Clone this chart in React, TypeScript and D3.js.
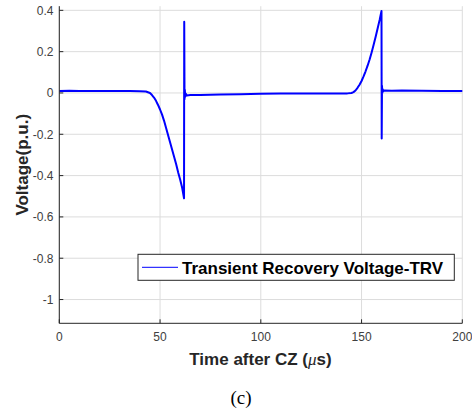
import React from "react";
import * as d3 from "d3";

// Time after current zero (µs)
const timeUs: number[] = [
  0, 5, 10, 15, 20, 25, 30, 35, 40, 43, 45, 46, 47, 48, 49, 50, 51, 52, 53, 54, 55, 56, 57, 58, 59, 60, 61, 61.9,
  62.0, 62.15, 62.3, 62.5, 62.8, 63.3, 65, 70, 80, 90, 100, 110, 120, 130, 140, 143, 145, 146, 147, 148, 149, 150,
  151, 152, 153, 154, 155, 156, 157, 158, 159, 159.9, 160.0, 160.15, 160.3, 160.5, 160.8, 161.3, 165, 170, 180,
  190, 200,
];
// Transient recovery voltage (p.u.)
const voltagePu: number[] = [
  0.01, 0.011, 0.01, 0.009, 0.01, 0.009, 0.01, 0.009, 0.008, 0.007, 0.0, -0.01, -0.022, -0.038, -0.058, -0.08,
  -0.105, -0.135, -0.17, -0.205, -0.24, -0.275, -0.31, -0.345, -0.385, -0.42, -0.46, -0.51, 0.345, -0.03, 0.015,
  -0.018, -0.004, -0.012, -0.01, -0.01, -0.008, -0.006, -0.004, -0.003, -0.002, -0.002, -0.002, -0.002, 0.0,
  0.004, 0.012, 0.025, 0.04, 0.058, 0.08, 0.105, 0.132, 0.162, 0.196, 0.233, 0.272, 0.313, 0.355, 0.397, -0.22,
  0.035, 0.0, 0.018, 0.008, 0.012, 0.011, 0.012, 0.011, 0.01, 0.01,
];

const xTicks: number[] = [0, 50, 100, 150, 200];
const yTicks: number[] = [0.4, 0.2, 0, -0.2, -0.4, -0.6, -0.8, -1];

const seriesName = "Transient Recovery Voltage-TRV";
const xLabel = "Time after CZ (";
const yLabel = "Voltage(p.u.)";
const caption = "(c)";

export default function App() {
  const W = 472;
  const H = 414;
  const x = d3.scaleLinear().domain([0, 200]).range([59.3, 462.3]);
  const y = d3.scaleLinear().domain([-1.115, 0.42]).range([323.3, 6.2]);
  const pts: [number, number][] = timeUs.map((t, i) => [t, voltagePu[i]]);
  const line = d3
    .line<[number, number]>()
    .x((d) => x(d[0]))
    .y((d) => y(d[1]));
  const font = "'Liberation Sans', Arial, Helvetica, sans-serif";
  const axisColor = "#262626";
  const gridColor = "#dcdcdc";
  const [x0, x1] = x.range();
  const [y0, y1] = y.range();

  return (
    <svg
      width={W}
      height={H}
      style={{ position: "absolute", left: 0, top: 0, background: "#fff" }}
      fontFamily={font}
    >
      <rect x={0} y={0} width={W} height={H} fill="#fff" />
      {/* grid */}
      {xTicks.map((t) => (
        <line key={"gx" + t} x1={x(t)} x2={x(t)} y1={y0} y2={y1} stroke={gridColor} strokeWidth={1} />
      ))}
      {yTicks.map((t) => (
        <line key={"gy" + t} x1={x0} x2={x1} y1={y(t)} y2={y(t)} stroke={gridColor} strokeWidth={1} />
      ))}
      {/* data */}
      <path d={line(pts) || ""} fill="none" stroke="#0000ff" strokeWidth={2} strokeLinejoin="round" />
      {/* axes */}
      <line x1={x0} x2={x1} y1={y0} y2={y0} stroke={axisColor} strokeWidth={1} />
      <line x1={x0} x2={x0} y1={y0} y2={y1} stroke={axisColor} strokeWidth={1} />
      {xTicks.map((t) => (
        <g key={"tx" + t}>
          <line x1={x(t)} x2={x(t)} y1={y0} y2={y0 - 4} stroke={axisColor} strokeWidth={1} />
          <text x={x(t)} y={341} textAnchor="middle" fontSize={12} fill="#404040">
            {t}
          </text>
        </g>
      ))}
      {yTicks.map((t) => (
        <g key={"ty" + t}>
          <line x1={x0} x2={x0 + 4} y1={y(t)} y2={y(t)} stroke={axisColor} strokeWidth={1} />
          <text x={53.5} y={y(t) + 4.3} textAnchor="end" fontSize={12} fill="#404040">
            {t}
          </text>
        </g>
      ))}
      {/* axis labels */}
      <text x={260.5} y={365} textAnchor="middle" fontSize={17} fontWeight="bold" fill={axisColor}>
        {xLabel}
        <tspan fontStyle="italic" fontWeight="normal" fontFamily="'Liberation Serif', 'Times New Roman', serif">
          μ
        </tspan>
        {"s)"}
      </text>
      <text
        transform={`translate(27.5,${(y0 + y1) / 2}) rotate(-90)`}
        textAnchor="middle"
        fontSize={17}
        fontWeight="bold"
        fill={axisColor}
      >
        {yLabel}
      </text>
      {/* legend */}
      <rect x={138} y={254.3} width={316.3} height={26} fill="#fff" stroke={axisColor} strokeWidth={1} />
      <line x1={142} x2={178} y1={267.3} y2={267.3} stroke="#0000ff" strokeWidth={1} />
      <text x={182} y={273.5} fontSize={17} fontWeight="bold" fill="#000">
        {seriesName}
      </text>
      {/* caption */}
      <text
        x={241}
        y={404}
        textAnchor="middle"
        fontSize={19}
        fontFamily="'Liberation Serif', 'Times New Roman', serif"
        fill="#000"
      >
        {caption}
      </text>
    </svg>
  );
}
